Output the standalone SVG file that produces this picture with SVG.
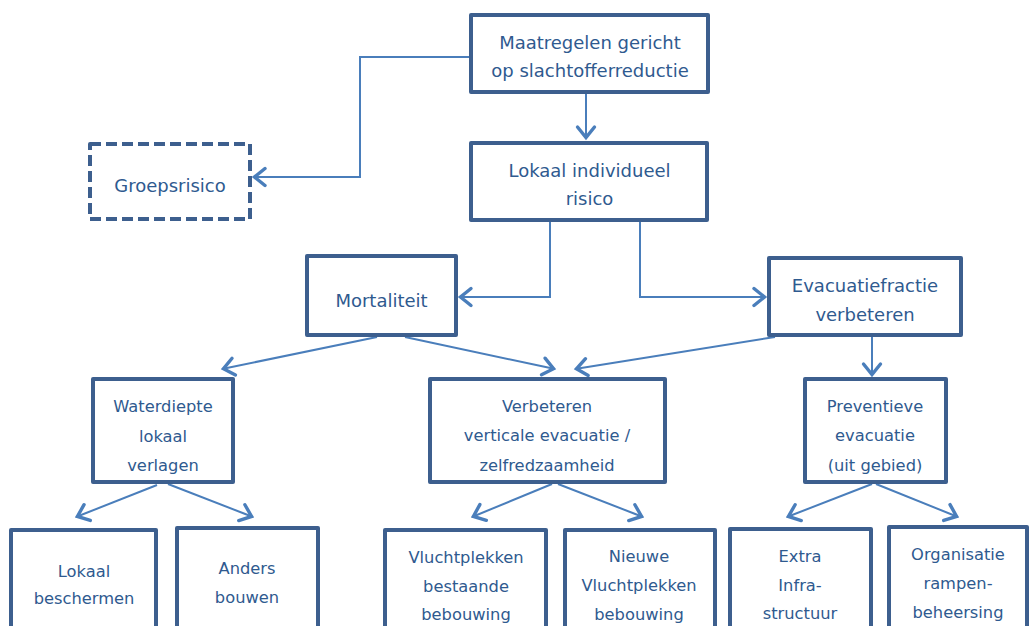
<svg xmlns="http://www.w3.org/2000/svg" width="1031" height="626" viewBox="0 0 1031 626">
<style>
.box{fill:#fff;stroke:#3d5f8e;stroke-width:4;stroke-linejoin:round}
.dash{stroke-dasharray:11 5}
.t{font-family:"DejaVu Sans",Verdana,sans-serif;fill:#2f5a8f;text-anchor:middle}
.l{font-size:18px}
.s{font-size:16.3px}
.c{fill:none;stroke:#4a7ebb;stroke-width:2;marker-end:url(#a)}
</style>
<defs>
<marker id="a" viewBox="-16 -12 18 24" markerWidth="18" markerHeight="24" refX="0" refY="0" orient="auto" markerUnits="userSpaceOnUse">
<path d="M-12,-8.5 L-1.5,0 L-12,8.5" fill="none" stroke="#4a7ebb" stroke-width="3.4" stroke-linecap="round"/>
</marker>
</defs>
<rect width="1031" height="626" fill="#fff"/>
<g id="connectors">
<path class="c" d="M586,94 V139"/>
<path class="c" d="M469,57 H360 V177 H253"/>
<path class="c" d="M550,222 V297 H459"/>
<path class="c" d="M640,222 V297 H766"/>
<path class="c" d="M377,337 L222,369"/>
<path class="c" d="M405,337 L555,369"/>
<path class="c" d="M775,337 L575,369"/>
<path class="c" d="M872,337 V376"/>
<path class="c" d="M157,485 L76,517"/>
<path class="c" d="M168,484 L253,517"/>
<path class="c" d="M552,484 L472,517"/>
<path class="c" d="M558,484 L643,517"/>
<path class="c" d="M872,484 L787,517"/>
<path class="c" d="M876,484 L958,517"/>
</g>
<g id="n-maatregelen">
<rect class="box" x="471" y="15" width="237" height="77"/>
<text class="t l" x="590" y="48.5">Maatregelen gericht</text>
<text class="t l" x="590" y="76.5">op slachtofferreductie</text>
</g>
<g id="n-groepsrisico">
<rect class="box dash" x="90" y="144" width="160" height="75"/>
<text class="t l" x="170" y="191.5">Groepsrisico</text>
</g>
<g id="n-lir">
<rect class="box" x="471" y="143" width="236" height="77"/>
<text class="t l" x="589.5" y="177">Lokaal individueel</text>
<text class="t l" x="589.5" y="205">risico</text>
</g>
<g id="n-mortaliteit">
<rect class="box" x="307" y="256" width="149" height="79"/>
<text class="t l" x="381.5" y="306.5">Mortaliteit</text>
</g>
<g id="n-evacuatiefractie">
<rect class="box" x="769" y="258" width="192" height="77"/>
<text class="t l" x="865" y="291.5">Evacuatiefractie</text>
<text class="t l" x="865" y="320.5">verbeteren</text>
</g>
<g id="n-waterdiepte">
<rect class="box" x="93" y="379" width="140" height="103"/>
<text class="t s" x="163" y="412">Waterdiepte</text>
<text class="t s" x="163" y="441.5">lokaal</text>
<text class="t s" x="163" y="470.5">verlagen</text>
</g>
<g id="n-verbeteren">
<rect class="box" x="430" y="379" width="235" height="103"/>
<text class="t s" x="547" y="412.3">Verbeteren</text>
<text class="t s" x="547" y="441.3">verticale evacuatie /</text>
<text class="t s" x="547" y="470.5">zelfredzaamheid</text>
</g>
<g id="n-preventieve">
<rect class="box" x="805" y="379" width="141" height="103"/>
<text class="t s" x="875" y="412.3">Preventieve</text>
<text class="t s" x="875" y="441.3">evacuatie</text>
<text class="t s" x="875" y="470.5">(uit gebied)</text>
</g>
<g id="n-lokaal-beschermen">
<rect class="box" x="11" y="530" width="145" height="110"/>
<text class="t s" x="84" y="576.7">Lokaal</text>
<text class="t s" x="84" y="604">beschermen</text>
</g>
<g id="n-anders-bouwen">
<rect class="box" x="177" y="528" width="141" height="110"/>
<text class="t s" x="247" y="574">Anders</text>
<text class="t s" x="247" y="602.7">bouwen</text>
</g>
<g id="n-vluchtplekken-bestaande">
<rect class="box" x="385" y="530" width="161" height="110"/>
<text class="t s" x="466" y="562.7">Vluchtplekken</text>
<text class="t s" x="466" y="591.7">bestaande</text>
<text class="t s" x="466" y="620.3">bebouwing</text>
</g>
<g id="n-nieuwe-vluchtplekken">
<rect class="box" x="565" y="530" width="150" height="110"/>
<text class="t s" x="639" y="562.3">Nieuwe</text>
<text class="t s" x="639" y="591.3">Vluchtplekken</text>
<text class="t s" x="639" y="620">bebouwing</text>
</g>
<g id="n-extra-infra">
<rect class="box" x="730" y="529" width="141" height="110"/>
<text class="t s" x="800" y="561.7">Extra</text>
<text class="t s" x="800" y="590.7">Infra-</text>
<text class="t s" x="800" y="619.3">structuur</text>
</g>
<g id="n-organisatie">
<rect class="box" x="889" y="527" width="138" height="110"/>
<text class="t s" x="958" y="559.5">Organisatie</text>
<text class="t s" x="958" y="588.5">rampen-</text>
<text class="t s" x="958" y="617.5">beheersing</text>
</g>
</svg>
